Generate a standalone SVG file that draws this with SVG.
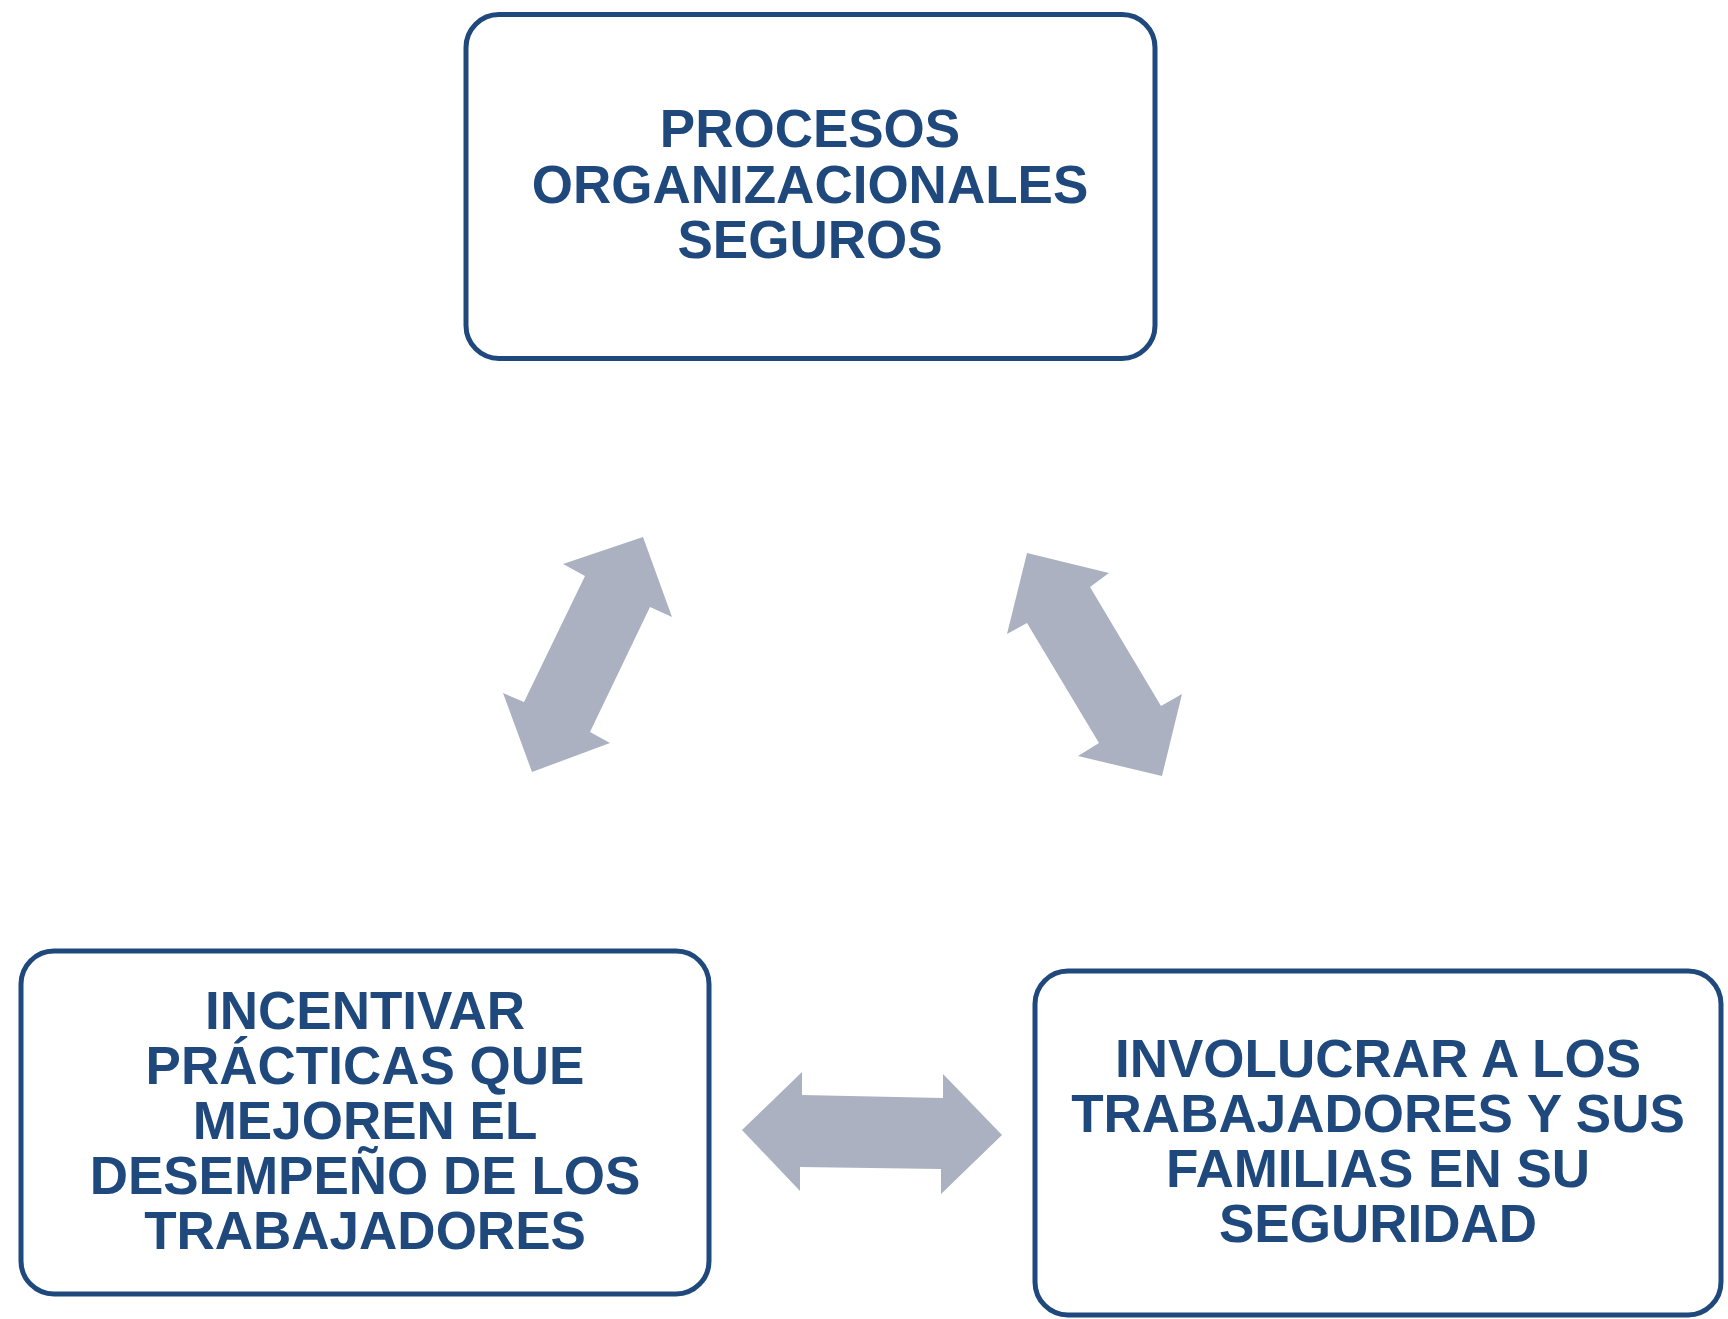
<svg xmlns="http://www.w3.org/2000/svg" width="1728" height="1319" viewBox="0 0 1728 1319">
  <style>
    .box { fill: #ffffff; stroke: #1F497D; stroke-width: 5; }
    .lbl { font-family: "Liberation Sans", Arial, sans-serif; font-weight: bold; font-size: 53px; fill: #1F497D; text-anchor: middle; }
    .arr { fill: #ABB1C0; stroke: none; }
  </style>
  <rect width="1728" height="1319" fill="#ffffff"/>
  <g id="connectors">
    <polygon class="arr" points="643,537 672,617 650,607 590,732 610,743 532,772 503,693 524,702 585,576 563,564"/>
    <polygon class="arr" points="1027,553 1109,573 1090,587 1161,706 1182,694 1162,776 1078,756 1099,743 1027,623 1007,634"/>
    <polygon class="arr" points="742,1130 802,1072 802,1095 943,1098 943,1074 1002,1135 941,1194 941,1169 800,1167 800,1191"/>
  </g>
  <g id="node-procesos">
    <rect class="box" x="466" y="14.5" width="689" height="344" rx="33" ry="33"/>
    <text class="lbl" x="810" y="147">PROCESOS</text>
    <text class="lbl" x="810" y="202.5">ORGANIZACIONALES</text>
    <text class="lbl" x="810" y="258">SEGUROS</text>
  </g>
  <g id="node-incentivar">
    <rect class="box" x="21" y="951" width="688" height="343" rx="33" ry="33"/>
    <text class="lbl" x="365" y="1029">INCENTIVAR</text>
    <text class="lbl" x="365" y="1084">PRÁCTICAS QUE</text>
    <text class="lbl" x="365" y="1139">MEJOREN EL</text>
    <text class="lbl" x="365" y="1194">DESEMPEÑO DE LOS</text>
    <text class="lbl" x="365" y="1249">TRABAJADORES</text>
  </g>
  <g id="node-involucrar">
    <rect class="box" x="1035" y="971" width="686" height="344" rx="33" ry="33"/>
    <text class="lbl" x="1378" y="1077">INVOLUCRAR A LOS</text>
    <text class="lbl" x="1378" y="1132">TRABAJADORES Y SUS</text>
    <text class="lbl" x="1378" y="1187">FAMILIAS EN SU</text>
    <text class="lbl" x="1378" y="1242">SEGURIDAD</text>
  </g>
</svg>
